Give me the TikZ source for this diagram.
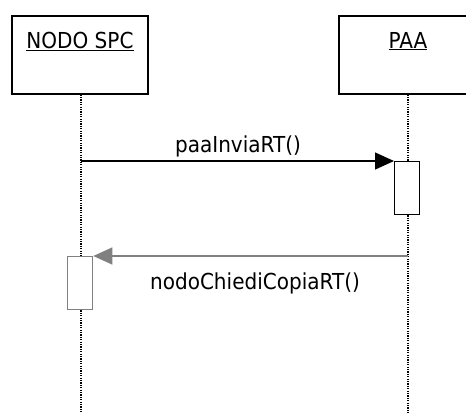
\documentclass[tikz,border=0pt]{standalone}
\usepackage{fontspec}
\setmainfont{DejaVu Sans}[FakeStretch=0.91]
\usetikzlibrary{arrows.meta}
\definecolor{msggray}{HTML}{808080}
\tikzset{
  objbox/.style={draw=black, line width=1.5pt, fill=white, minimum width=136pt, minimum height=78pt, inner sep=0pt},
  actbox/.style={draw, line width=1.3pt, fill=white, minimum width=25pt, minimum height=53pt, inner sep=0pt, anchor=north west},
  lifeline/.style={line width=1.2pt, dash pattern=on 1.2pt off 1.2pt},
  msg/.style={line width=1.2pt, -{Triangle[length=19pt,width=17pt]}},
  lbl/.style={font=\fontsize{22}{26}\selectfont, inner sep=0pt, anchor=base},
}
\begin{document}
\begin{tikzpicture}[x=1pt, y=-1pt]
\useasboundingbox (0,0) rectangle (466,413);
% participant heads
\node[objbox, anchor=north west] (spc) at (11,15) {};
\node[lbl] (spct) at (80,48) {\underline{NODO SPC}};
\node[objbox, anchor=north west, minimum width=128pt] (paa) at (338,15) {};
\node[lbl] (paat) at (408,48) {\underline{PAA}};
% lifeline ends
\coordinate (spcbot) at (81,413);
\coordinate (paabot) at (408,413);
% activations
\node[actbox] (actpaa) at (394,161) {};
\node[actbox, draw=msggray] (actspc) at (67,256) {};
% lifelines
\draw[lifeline] (spc.south -| spcbot) -- (actspc.north -| spcbot);
\draw[lifeline] (actspc.south -| spcbot) -- (spcbot);
\draw[lifeline] (paa.south -| paabot) -- (actpaa.north -| paabot);
\draw[lifeline] (actpaa.south -| paabot) -- (paabot);
% messages
\draw[msg] (actpaa.north west -| spcbot) -- (actpaa.north west);
\node[lbl] (m1) at (238,152) {paaInviaRT()};
\draw[msg, draw=msggray, -{Triangle[length=19pt,width=17pt,fill=msggray]}, color=msggray] (actspc.north east -| paabot) -- (actspc.north east);
\node[lbl] (m2) at (255,289) {nodoChiediCopiaRT()};
\end{tikzpicture}
\end{document}
